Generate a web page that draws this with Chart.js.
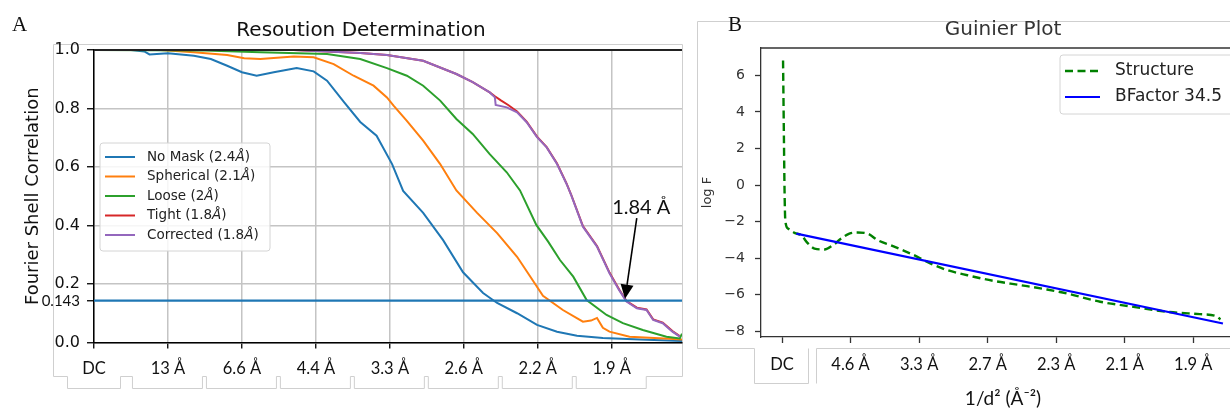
<!DOCTYPE html>
<html>
<head>
<meta charset="utf-8">
<title>Resolution determination and Guinier plot</title>
<script src="https://cdn.jsdelivr.net/npm/chart.js@4.4.1/dist/chart.umd.min.js"></script>
<style>
  html, body { margin:0; padding:0; background:#ffffff; }
  body { width:1230px; height:410px; overflow:hidden; position:relative; }
  #ca { position:absolute; left:0; top:0; }
  #cb { position:absolute; left:690px; top:0; }
  .panel-label { position:absolute; font-family:"Liberation Serif","DejaVu Serif",serif; font-size:21px; color:#111; line-height:1; }
</style>
</head>
<body>
<canvas id="ca" width="734" height="410"></canvas>
<canvas id="cb" width="570" height="410"></canvas>
<div class="panel-label" style="left:12px;top:14px;">A</div>
<div class="panel-label" style="left:728px;top:14px;">B</div>
<script>
// ================= Panel A : FSC curves =================
// x = spatial frequency (1/Å), y = Fourier shell correlation
const aTickValues = [0, 0.0757, 0.1514, 0.2271, 0.3028, 0.3785, 0.4542, 0.5299];
const aTickLabels = ['DC', '13 Å', '6.6 Å', '4.4 Å', '3.3 Å', '2.6 Å', '2.2 Å', '1.9 Å'];
const aXMax = 0.6018;
const fscTicks = [0, 0.143, 0.2, 0.4, 0.6, 0.8, 1.0];
const fscThreshold = 0.143;
const seriesLabels = ['No Mask (2.4Å)', 'Spherical (2.1Å)', 'Loose (2Å)', 'Tight (1.8Å)', 'Corrected (1.8Å)'];

const noMaskX = [0, 0.0379, 0.0515, 0.0568, 0.0757, 0.1022, 0.1196, 0.1363, 0.1514, 0.1665, 0.1840, 0.2074, 0.2248, 0.2385, 0.2559, 0.2725, 0.2892, 0.3051, 0.3164, 0.3369, 0.3573, 0.3777, 0.3982, 0.4126, 0.4330, 0.4534, 0.4739, 0.4943, 0.5208, 0.5587, 0.6018];
const noMaskY = [1.0, 1.0, 0.995, 0.985, 0.989, 0.98, 0.969, 0.946, 0.924, 0.912, 0.924, 0.938, 0.927, 0.895, 0.822, 0.754, 0.707, 0.61, 0.518, 0.443, 0.35, 0.24, 0.169, 0.135, 0.10, 0.06, 0.037, 0.023, 0.015, 0.01, 0.005];

const sphericalX = [0, 0.0681, 0.1022, 0.1363, 0.1537, 0.1703, 0.2044, 0.2248, 0.2453, 0.2657, 0.2861, 0.2998, 0.3066, 0.3202, 0.3369, 0.3543, 0.3709, 0.3921, 0.4126, 0.4330, 0.4466, 0.4595, 0.4799, 0.5004, 0.5087, 0.5148, 0.5208, 0.5276, 0.5481, 0.5889, 0.6018];
const sphericalY = [1.0, 1.0, 0.992, 0.983, 0.972, 0.969, 0.978, 0.975, 0.952, 0.912, 0.878, 0.838, 0.81, 0.758, 0.69, 0.61, 0.52, 0.443, 0.374, 0.293, 0.225, 0.16, 0.111, 0.071, 0.075, 0.084, 0.05, 0.037, 0.02, 0.013, 0.01];

const looseX = [0, 0.1136, 0.1703, 0.2385, 0.2725, 0.2998, 0.3202, 0.3369, 0.3543, 0.3709, 0.3876, 0.4050, 0.4224, 0.4360, 0.4527, 0.4648, 0.4769, 0.4905, 0.5042, 0.5246, 0.5413, 0.5617, 0.5859, 0.5995, 0.6018];
const looseY = [1.0, 0.998, 0.992, 0.986, 0.969, 0.938, 0.912, 0.878, 0.827, 0.764, 0.713, 0.644, 0.582, 0.52, 0.402, 0.345, 0.282, 0.225, 0.145, 0.094, 0.066, 0.043, 0.02, 0.014, 0.03];

const tightX = [0, 0.2044, 0.2385, 0.2725, 0.2998, 0.3369, 0.3709, 0.3876, 0.4050, 0.4103, 0.4164, 0.4239, 0.4330, 0.4428, 0.4534, 0.4633, 0.4739, 0.4837, 0.4883, 0.5004, 0.5148, 0.5276, 0.5375, 0.5450, 0.5556, 0.5655, 0.5723, 0.5821, 0.5920, 0.5995];
const tightY = [1.0, 1.0, 0.995, 0.99, 0.983, 0.963, 0.918, 0.89, 0.855, 0.842, 0.828, 0.812, 0.79, 0.755, 0.704, 0.668, 0.612, 0.543, 0.506, 0.398, 0.330, 0.239, 0.181, 0.142, 0.119, 0.113, 0.079, 0.068, 0.039, 0.022];

const correctedX = [0, 0.2044, 0.2385, 0.2725, 0.2998, 0.3369, 0.3709, 0.3876, 0.4050, 0.4103, 0.4111, 0.4224, 0.4330, 0.4428, 0.4534, 0.4633, 0.4739, 0.4837, 0.4883, 0.5004, 0.5148, 0.5276, 0.5375, 0.5450, 0.5556, 0.5655, 0.5723, 0.5821, 0.5920, 0.5995];
const correctedY = [1.0, 1.0, 0.995, 0.99, 0.983, 0.963, 0.918, 0.89, 0.855, 0.838, 0.812, 0.804, 0.787, 0.753, 0.702, 0.667, 0.61, 0.542, 0.505, 0.396, 0.328, 0.237, 0.179, 0.14, 0.117, 0.111, 0.077, 0.066, 0.037, 0.02];

const annotRes = 1.84;             // resolution at FSC = 0.143
const annotText = '1.84 Å';
const annotTipY = 0.15;
const annotTail = [0.5555, 0.4256];
const annotLabel = [0.5601, 0.439];

// ================= Panel B : Guinier plot =================
// x = 1/d^2 (Å^-2), y = log F
const bTickValues = [0, 0.046, 0.092, 0.138, 0.184, 0.230, 0.276];
const bTickLabels = ['DC', '4.6 Å', '3.3 Å', '2.7 Å', '2.3 Å', '2.1 Å', '1.9 Å'];
const logFTicks = [-8, -6, -4, -2, 0, 2, 4, 6];
const bXMin = -0.0141, bXMax = 0.3107, bYMin = -8.32, bYMax = 7.5;
const guinierLabels = ['Structure', 'BFactor 34.5'];

const structureX = [0.0007, 0.0013, 0.0017, 0.0022, 0.0040, 0.0084, 0.0129, 0.0174, 0.0218, 0.0285, 0.0341, 0.0397, 0.0452, 0.0508, 0.0575, 0.0642, 0.0731, 0.0820, 0.0909, 0.0998, 0.1110, 0.1244, 0.1421, 0.1600, 0.1778, 0.1912, 0.2135, 0.2358, 0.2581, 0.2804, 0.2915, 0.2942];
const structureY = [6.82, 2.45, -0.29, -1.93, -2.38, -2.62, -2.75, -3.2, -3.48, -3.53, -3.3, -2.93, -2.66, -2.6, -2.66, -3.02, -3.3, -3.6, -3.93, -4.3, -4.66, -4.94, -5.25, -5.48, -5.72, -5.94, -6.39, -6.67, -6.94, -7.07, -7.18, -7.36];
const bfactorX = [0.0096, 0.2959];
const bfactorY = [-2.66, -7.58];

// ---------------- helpers ----------------
const pts = (xs, ys) => xs.map((x, i) => ({ x: x, y: ys[i] }));
const GRAY = '#cfcfcf';

function roundRectPath(ctx, x, y, w, h, r) {
  ctx.beginPath();
  ctx.moveTo(x + r, y);
  ctx.lineTo(x + w - r, y); ctx.quadraticCurveTo(x + w, y, x + w, y + r);
  ctx.lineTo(x + w, y + h - r); ctx.quadraticCurveTo(x + w, y + h, x + w - r, y + h);
  ctx.lineTo(x + r, y + h); ctx.quadraticCurveTo(x, y + h, x, y + h - r);
  ctx.lineTo(x, y + r); ctx.quadraticCurveTo(x, y, x + r, y);
  ctx.closePath();
}

function drawLegend(ctx, x, y, w, h, items, o) {
  ctx.save();
  roundRectPath(ctx, x, y, w, h, 3);
  ctx.fillStyle = 'rgba(255,255,255,0.85)';
  ctx.fill();
  ctx.strokeStyle = '#d4d4d4'; ctx.lineWidth = 1; ctx.stroke();
  items.forEach((it, i) => {
    const cy = y + o.first + i * o.gap;
    ctx.beginPath();
    ctx.setLineDash(it.borderDash || []);
    ctx.strokeStyle = it.borderColor; ctx.lineWidth = it.borderWidth;
    ctx.moveTo(x + o.lx0, cy); ctx.lineTo(x + o.lx1, cy); ctx.stroke();
    ctx.setLineDash([]);
    ctx.fillStyle = o.color; ctx.textBaseline = 'middle'; ctx.textAlign = 'left';
    let tx = x + o.tx;
    const parts = o.italicA ? it.label.split('Å') : [it.label];
    parts.forEach((p, j) => {
      ctx.font = o.font; ctx.fillText(p, tx, cy); tx += ctx.measureText(p).width;
      if (j < parts.length - 1) {
        ctx.font = 'italic ' + o.font; ctx.fillText('Å', tx, cy); tx += ctx.measureText('Å').width;
      }
    });
  });
  ctx.restore();
}

// ---------------- Panel A plugins ----------------
const frameA = {
  id: 'frameA',
  beforeDraw(chart) {
    const ctx = chart.ctx, a = chart.chartArea, xs = chart.scales.x;
    const top = a.top - 6, left = a.left - 41, right = a.right;
    const yTop = a.bottom + 33.5, yBot = a.bottom + 45.5;
    const brackets = aTickValues.map((v, i) => {
      const px = xs.getPixelForValue(v);
      return i === 0 ? [px - 27, px + 26] : [px - 36, px + 34];
    });
    ctx.save();
    ctx.strokeStyle = GRAY; ctx.lineWidth = 1;
    ctx.beginPath();
    ctx.moveTo(right + 0.5, top + 0.5); ctx.lineTo(left + 0.5, top + 0.5);
    ctx.lineTo(left + 0.5, yTop + 0.5);
    brackets.forEach(b => {
      ctx.lineTo(b[0] + 0.5, yTop + 0.5); ctx.lineTo(b[0] + 0.5, yBot + 0.5);
      ctx.lineTo(b[1] + 0.5, yBot + 0.5); ctx.lineTo(b[1] + 0.5, yTop + 0.5);
    });
    ctx.lineTo(right + 0.5, yTop + 0.5); ctx.lineTo(right + 0.5, top + 0.5);
    ctx.stroke();
    ctx.restore();
  },
  afterDatasetsDraw(chart) {
    const ctx = chart.ctx, a = chart.chartArea;
    ctx.save();
    ctx.strokeStyle = '#222'; ctx.lineWidth = 2;
    ctx.beginPath(); ctx.moveTo(a.left, a.top); ctx.lineTo(a.right, a.top); ctx.stroke();
    ctx.restore();
  }
};

const legendA = {
  id: 'legendA',
  afterDatasetsDraw(chart) {
    const a = chart.chartArea;
    const items = seriesLabels.map(l => chart.data.datasets.find(d => d.label === l));
    drawLegend(chart.ctx, a.left + 6, a.top + 93, 170, 108, items, {
      first: 14, gap: 19.5, lx0: 5, lx1: 35, tx: 47,
      font: '13.5px "DejaVu Sans"', color: '#222', italicA: true
    });
  }
};

const annotA = {
  id: 'annotA',
  afterDatasetsDraw(chart) {
    const xs = chart.scales.x, ys = chart.scales.y, ctx = chart.ctx;
    const tipX = xs.getPixelForValue(1 / annotRes), tipY = ys.getPixelForValue(annotTipY);
    const tailX = xs.getPixelForValue(annotTail[0]), tailY = ys.getPixelForValue(annotTail[1]);
    const ang = Math.atan2(tipY - tailY, tipX - tailX);
    const hl = 14, hw = 6.5;
    const bx = tipX - hl * Math.cos(ang), by = tipY - hl * Math.sin(ang);
    ctx.save();
    ctx.strokeStyle = '#000'; ctx.lineWidth = 1.6;
    ctx.beginPath(); ctx.moveTo(tailX, tailY); ctx.lineTo(bx, by); ctx.stroke();
    ctx.fillStyle = '#000';
    ctx.beginPath(); ctx.moveTo(tipX, tipY);
    ctx.lineTo(bx + hw * Math.sin(ang), by - hw * Math.cos(ang));
    ctx.lineTo(bx - hw * Math.sin(ang), by + hw * Math.cos(ang));
    ctx.closePath(); ctx.fill();
    ctx.font = '20px Lato'; ctx.textAlign = 'center'; ctx.textBaseline = 'alphabetic';
    ctx.fillStyle = '#111';
    ctx.fillText(annotText, xs.getPixelForValue(annotLabel[0]), ys.getPixelForValue(annotLabel[1]));
    ctx.restore();
  }
};

const dsA = [
  { label: seriesLabels[4], data: pts(correctedX, correctedY), borderColor: '#9467bd', order: 1 },
  { label: seriesLabels[3], data: pts(tightX, tightY), borderColor: '#d62728', order: 2 },
  { label: seriesLabels[2], data: pts(looseX, looseY), borderColor: '#2ca02c', order: 3 },
  { label: seriesLabels[1], data: pts(sphericalX, sphericalY), borderColor: '#ff7f0e', order: 4 },
  { label: seriesLabels[0], data: pts(noMaskX, noMaskY), borderColor: '#1f77b4', order: 5 },
  { label: 'FSC 0.143', data: [{ x: 0, y: fscThreshold }, { x: aXMax, y: fscThreshold }], borderColor: '#1f77b4', order: 0, borderWidth: 2.2 }
].map(d => Object.assign({ borderWidth: 2, pointRadius: 0, tension: 0, fill: false }, d));

new Chart(document.getElementById('ca'), {
  type: 'line',
  data: { datasets: dsA },
  options: {
    responsive: false, animation: false, devicePixelRatio: 1, events: [],
    layout: { padding: { left: 40, right: 52, top: 0, bottom: 0 } },
    plugins: {
      legend: { display: false }, tooltip: { enabled: false },
      title: {
        display: true, text: 'Resoution Determination', fullSize: true, color: '#111',
        font: { family: 'DejaVu Sans', size: 20, weight: 'normal' },
        padding: { top: 19, bottom: 7 }
      }
    },
    scales: {
      x: {
        type: 'linear', min: 0, max: aXMax,
        afterBuildTicks: s => { s.ticks = aTickValues.map(v => ({ value: v })); },
        afterFit: s => { s.height = 67.5; },
        ticks: {
          autoSkip: false, maxRotation: 0, padding: 10, color: '#111',
          font: { family: 'Lato', size: 16.5 },
          callback: (v, i) => aTickLabels[i]
        },
        grid: { color: '#c4c4c4', lineWidth: 1.5, tickColor: '#000', tickLength: 6, tickWidth: 1.3 },
        border: { display: true, color: '#000', width: 1.5 }
      },
      y: {
        type: 'linear', min: 0, max: 1,
        afterBuildTicks: s => { s.ticks = fscTicks.map(v => ({ value: v })); },
        afterFit: s => { s.width = 54; },
        ticks: {
          autoSkip: false, padding: 7, color: '#111',
          font: ctx => (ctx.tick && ctx.tick.value === fscThreshold)
            ? { family: 'Lato', size: 15 } : { family: 'DejaVu Sans', size: 16 },
          callback: v => (v === fscThreshold ? '0.143' : v.toFixed(1))
        },
        grid: {
          color: ctx => (ctx.tick && ctx.tick.value === fscThreshold) ? 'rgba(0,0,0,0)' : '#c4c4c4',
          lineWidth: 1.5, tickColor: '#000', tickLength: 7, tickWidth: 1.3
        },
        border: { display: true, color: '#000', width: 1.5 },
        title: {
          display: true, text: 'Fourier Shell Correlation', color: '#111',
          font: { family: 'DejaVu Sans', size: 18 }, padding: { top: -17.8, bottom: 0 }
        }
      }
    }
  },
  plugins: [frameA, legendA, annotA]
});

// ---------------- Panel B plugins ----------------
const frameB = {
  id: 'frameB',
  beforeDraw(chart) {
    const ctx = chart.ctx, a = chart.chartArea, xs = chart.scales.x;
    const dc = xs.getPixelForValue(bTickValues[0]);
    const yTop = a.top - 27, xL = a.left - 64, yB1 = a.bottom + 11, yB2 = a.bottom + 46;
    ctx.save();
    ctx.strokeStyle = GRAY; ctx.lineWidth = 1;
    ctx.beginPath();
    ctx.moveTo(chart.width, yTop + 0.5); ctx.lineTo(xL + 0.5, yTop + 0.5); ctx.lineTo(xL + 0.5, yB1 + 0.5);
    ctx.lineTo(dc - 28 + 0.5, yB1 + 0.5); ctx.lineTo(dc - 28 + 0.5, yB2 + 0.5);
    ctx.lineTo(dc + 26 + 0.5, yB2 + 0.5); ctx.lineTo(dc + 26 + 0.5, yB1 + 0.5);
    ctx.moveTo(dc + 34 + 0.5, yB2 + 0.5); ctx.lineTo(dc + 34 + 0.5, yB1 + 0.5); ctx.lineTo(chart.width, yB1 + 0.5);
    ctx.stroke();
    ctx.restore();
  },
  afterDatasetsDraw(chart) {
    const ctx = chart.ctx, a = chart.chartArea;
    ctx.save();
    ctx.strokeStyle = '#333'; ctx.lineWidth = 1.3;
    ctx.beginPath(); ctx.moveTo(a.left, a.top); ctx.lineTo(a.right, a.top); ctx.lineTo(a.right, a.bottom); ctx.stroke();
    ctx.restore();
  }
};

const legendB = {
  id: 'legendB',
  afterDatasetsDraw(chart) {
    const a = chart.chartArea;
    const items = guinierLabels.map(l => chart.data.datasets.find(d => d.label === l));
    drawLegend(chart.ctx, a.right - 185, a.top + 7, 178, 59, items, {
      first: 16, gap: 26, lx0: 5, lx1: 40, tx: 55,
      font: '17px "DejaVu Sans"', color: '#222', italicA: false
    });
  }
};

const dsB = [
  { label: guinierLabels[1], data: pts(bfactorX, bfactorY), borderColor: '#0000ff', borderWidth: 2.2, order: 0, tension: 0 },
  { label: guinierLabels[0], data: pts(structureX, structureY), borderColor: '#008000', borderWidth: 2.4,
    borderDash: [8, 4.5], order: 1, cubicInterpolationMode: 'monotone' }
].map(d => Object.assign({ pointRadius: 0, fill: false }, d));

new Chart(document.getElementById('cb'), {
  type: 'line',
  data: { datasets: dsB },
  options: {
    responsive: false, animation: false, devicePixelRatio: 1, events: [],
    layout: { padding: { left: 0, right: 15, top: 0, bottom: 0 } },
    plugins: {
      legend: { display: false }, tooltip: { enabled: false },
      title: {
        display: true, text: 'Guinier Plot', fullSize: false, color: '#333',
        font: { family: 'DejaVu Sans', size: 20, weight: 'normal' },
        padding: { top: 18, bottom: 6 }
      }
    },
    scales: {
      x: {
        type: 'linear', min: bXMin, max: bXMax,
        afterBuildTicks: s => { s.ticks = bTickValues.map(v => ({ value: v })); },
        afterFit: s => { s.height = 73; },
        ticks: {
          autoSkip: false, maxRotation: 0, padding: 12, color: '#111',
          font: { family: 'Lato', size: 16.5 },
          callback: (v, i) => bTickLabels[i]
        },
        grid: { drawOnChartArea: false, tickColor: '#333', tickLength: 6, tickWidth: 1.3 },
        border: { display: true, color: '#333', width: 1.3 },
        title: {
          display: true, text: '1/d² (Å⁻²)', color: '#111',
          font: { family: 'Lato', size: 19 }, padding: { top: 0, bottom: 0 }
        }
      },
      y: {
        type: 'linear', min: bYMin, max: bYMax,
        afterBuildTicks: s => { s.ticks = logFTicks.map(v => ({ value: v })); },
        afterFit: s => { s.width = 71; },
        ticks: {
          autoSkip: false, padding: 10, color: '#333',
          font: { family: 'DejaVu Sans', size: 14 },
          callback: v => (v < 0 ? '\u2212' + Math.abs(v) : String(v))
        },
        grid: { drawOnChartArea: false, tickColor: '#333', tickLength: 6, tickWidth: 1.3 },
        border: { display: true, color: '#333', width: 1.3 },
        title: {
          display: true, text: 'log F', color: '#333',
          font: { family: 'DejaVu Sans', size: 13 }, padding: { top: 10, bottom: 0 }
        }
      }
    }
  },
  plugins: [frameB, legendB]
});
</script>
</body>
</html>
